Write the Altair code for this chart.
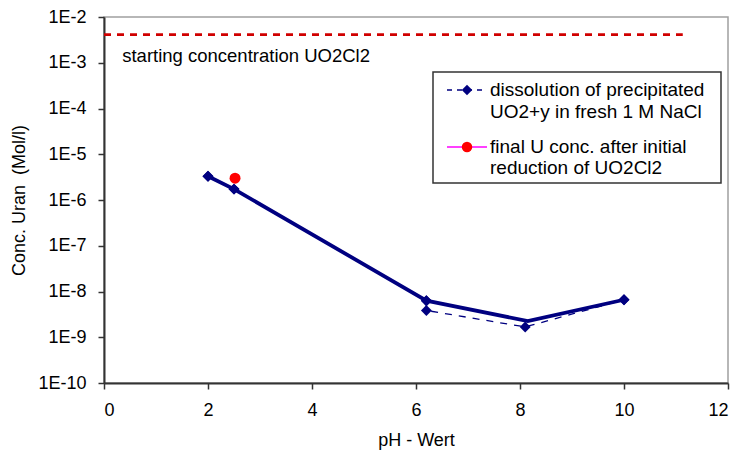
import altair as alt
import pandas as pd

# ---- data ----
ph_dissolution = [2.0, 2.5, 6.2, 6.2, 8.1, 10.0]
conc_dissolution = [3.3e-6, 1.73e-6, 6.3e-9, 3.85e-9, 1.68e-9, 6.6e-9]

ph_thick = [2.0, 2.5, 6.2, 8.15, 10.0]
conc_thick = [3.3e-6, 1.73e-6, 6.3e-9, 2.26e-9, 6.6e-9]
thick_marker = [True, True, True, False, True]

ph_final = [2.52]
conc_final = [3.0e-6]

ph_start = [0.0, 11.13]
conc_start = [4.1e-3, 4.1e-3]
start_label = "starting concentration UO2Cl2"
start_label_pos = [0.35, 1.37e-3]

legend_lines = [
    ["dissolution of precipitated", "UO2+y in fresh 1 M NaCl"],
    ["final U conc. after initial", "reduction of UO2Cl2"],
]

x_ticks = [0, 2, 4, 6, 8, 10, 12]
y_ticks = [1e-2, 1e-3, 1e-4, 1e-5, 1e-6, 1e-7, 1e-8, 1e-9, 1e-10]

FONT = "Liberation Sans"
NAVY = "#000080"
W, H = 624, 366

df_diss = pd.DataFrame({"ph": ph_dissolution, "conc": conc_dissolution,
                        "order": list(range(len(ph_dissolution)))})
df_thick = pd.DataFrame({"ph": ph_thick, "conc": conc_thick, "m": thick_marker})
df_final = pd.DataFrame({"ph": ph_final, "conc": conc_final})
df_start = pd.DataFrame({"ph": ph_start, "conc": conc_start})
df_label = pd.DataFrame({"ph": [start_label_pos[0]], "conc": [start_label_pos[1]], "t": [start_label]})

xaxis = alt.Axis(values=x_ticks, title="pH - Wert", grid=False, format="d",
                 labelFontSize=18, titleFontSize=18, labelFont=FONT, titleFont=FONT,
                 labelColor="#000", titleColor="#000", titleFontWeight="normal",
                 domainColor="#333", domainWidth=2, tickColor="#333", tickWidth=1.5, tickSize=6,
                 labelPadding=12, titlePadding=12)
yaxis = alt.Axis(values=y_ticks, title="Conc. Uran\u00a0 (Mol/l)", grid=False,
                 labelExpr="'1E' + round(log(datum.value)/LN10)",
                 labelFontSize=18, titleFontSize=18, labelFont=FONT, titleFont=FONT,
                 labelColor="#000", titleColor="#000", titleFontWeight="normal",
                 domainColor="#333", domainWidth=2, tickColor="#333", tickWidth=1.5, tickSize=6,
                 labelPadding=12, titlePadding=9)

X = alt.X("ph:Q", scale=alt.Scale(domain=[0, 12], nice=False, zero=False), axis=xaxis)
Y = alt.Y("conc:Q", scale=alt.Scale(type="log", domain=[1e-10, 1e-2], nice=False), axis=yaxis)

start_line = alt.Chart(df_start).mark_line(color="#d00000", strokeWidth=2.8, strokeDash=[7, 6]).encode(x=X, y=Y)
start_text = alt.Chart(df_label).mark_text(align="left", baseline="middle", font=FONT, fontSize=18.5, color="#000").encode(x=X, y=Y, text="t:N")

thick_line = alt.Chart(df_thick).mark_line(color=NAVY, strokeWidth=3.8).encode(x=X, y=Y)
thick_pts = alt.Chart(df_thick).transform_filter("datum.m").mark_point(shape="diamond", filled=True, color=NAVY, size=120, opacity=1).encode(x=X, y=Y)
diss_line = alt.Chart(df_diss).mark_line(color=NAVY, strokeWidth=1.3, strokeDash=[7, 7]).encode(x=X, y=Y, order="order:Q")
diss_pts = alt.Chart(df_diss).mark_point(shape="diamond", filled=True, color=NAVY, size=120, opacity=1).encode(x=X, y=Y)
final_pts = alt.Chart(df_final).mark_point(shape="circle", filled=True, color="#ff0000", size=120, opacity=1).encode(x=X, y=Y)

# ---- legend box (pixel placed decoration) ----
one = pd.DataFrame({"a": [0]})
lx0, lx1, ly0, ly1 = 329, 617, 55, 166
box = alt.Chart(one).mark_rect(fill="white", stroke="#333", strokeWidth=1.5).encode(
    x=alt.value(lx0), x2=alt.value(lx1), y=alt.value(ly0), y2=alt.value(ly1))
leg1_line = alt.Chart(one).mark_rule(color=NAVY, strokeWidth=1.3, strokeDash=[5, 5]).encode(
    x=alt.value(343), x2=alt.value(383), y=alt.value(73))
leg1_pt = alt.Chart(one).mark_point(shape="diamond", filled=True, color=NAVY, size=110, opacity=1).encode(
    x=alt.value(363), y=alt.value(73))
leg2_line = alt.Chart(one).mark_rule(color="#ff00ff", strokeWidth=1.3).encode(
    x=alt.value(343), x2=alt.value(383), y=alt.value(130))
leg2_pt = alt.Chart(one).mark_point(shape="circle", filled=True, color="#ff0000", size=110, opacity=1).encode(
    x=alt.value(363), y=alt.value(130))

texts = []
for lines, ys in zip(legend_lines, [(73, 95), (130, 151)]):
    for t, yy in zip(lines, ys):
        texts.append(alt.Chart(one).mark_text(align="left", baseline="middle", font=FONT, fontSize=19, color="#000", text=t).encode(
            x=alt.value(386), y=alt.value(yy)))

chart = alt.layer(
    start_line, start_text, diss_line, thick_line, diss_pts, thick_pts, final_pts,
    box, leg1_line, leg1_pt, leg2_line, leg2_pt, *texts
).properties(
    width=W, height=H,
    autosize=alt.AutoSizeParams(type="none"),
    padding={"left": 96, "top": 9, "right": 4, "bottom": 68},
).configure_view(stroke="#a0a0a0", strokeWidth=1.5)

chart.save("out.html", embed_options={"renderer": "svg", "actions": False})
